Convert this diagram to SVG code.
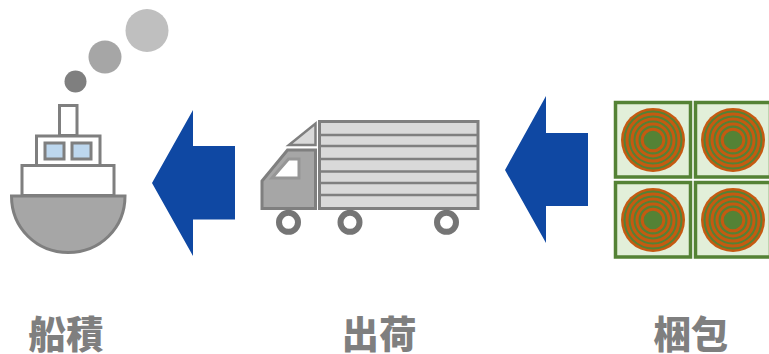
<svg xmlns="http://www.w3.org/2000/svg" width="769" height="354" viewBox="0 0 769 354">
<style>
.g{fill:none;stroke:#7f7f7f;stroke-width:3}
.t{stroke-width:2.500}
.w{fill:#fff}
.d{fill:#a6a6a6}
.l{fill:#d9d9d9}
.b{fill:#bdd7ee}
.arrow{fill:#0f48a3}
.p{fill:#e2efd9;stroke:#548235;stroke-width:3.500}
.o{fill:none;stroke:#c55a11;stroke-width:3}
.wh{fill:#fff;stroke:#757575;stroke-width:6}
text{font-family:"Noto Sans CJK JP","Noto Sans CJK SC",sans-serif;font-weight:900;font-size:37.500px;fill:#7f7f7f;text-anchor:middle}
</style>
<defs>
<g id="log">
<rect class="p" x="-37.500" y="-37.500" width="75" height="74.500"/>
<circle r="32" fill="#c55a11"/>
<circle r="29.500" fill="#548235"/>
<circle class="o" r="26"/><circle class="o" r="21"/><circle class="o" r="16"/><circle class="o" r="10.800"/>
</g>
</defs>
<g id="ship">
<circle cx="75.500" cy="81.500" r="11" fill="#7f7f7f"/>
<circle cx="105" cy="57" r="16.500" fill="#a6a6a6"/>
<circle cx="147" cy="30.500" r="21.500" fill="#bfbfbf"/>
<rect class="g w" x="59.500" y="105.500" width="17.500" height="30"/>
<rect class="g w" x="36.500" y="136" width="63.500" height="29.500"/>
<rect class="g b" x="45" y="143" width="19" height="16"/>
<rect class="g b" x="72" y="143" width="19" height="16"/>
<rect class="g w" x="22" y="165.500" width="92" height="30"/>
<path class="g d" d="M11.500 196H125C125 228 100 252.500 68.250 252.500S11.500 228 11.500 196Z"/>
</g>
<g id="truck">
<rect class="g l" x="319.500" y="121.500" width="158.500" height="87"/>
<path class="g t" d="M319.500 135H478M319.500 146H478M319.500 159H478M319.500 171.500H478M319.500 183H478M319.500 195H478"/>
<path class="g l t" d="M289 145L315.500 123.500V145Z"/>
<path class="g d" d="M262 181L287.500 150H315.500V208.500H262Z"/>
<path class="w" stroke="#969696" stroke-width="3" d="M272 178L288.500 159H299V178Z"/>
<circle class="wh" cx="288.500" cy="222.300" r="9.500"/>
<circle class="wh" cx="350" cy="222.300" r="9.500"/>
<circle class="wh" cx="446.500" cy="222.300" r="9.500"/>
</g>
<g id="bundle">
<use href="#log" x="653" y="140"/>
<use href="#log" x="733" y="140"/>
<use href="#log" x="653" y="220"/>
<use href="#log" x="733" y="220"/>
</g>
<g id="connectors">
<path class="arrow" d="M152 183L193 110V146H235V219.500H193V256Z"/>
<path class="arrow" d="M505 170L546 96V133H588V206H546V243Z"/>
</g>
<g id="labels">
<text x="66" y="348">船積</text>
<text x="379" y="348">出荷</text>
<text x="691" y="348">梱包</text>
</g>
</svg>
